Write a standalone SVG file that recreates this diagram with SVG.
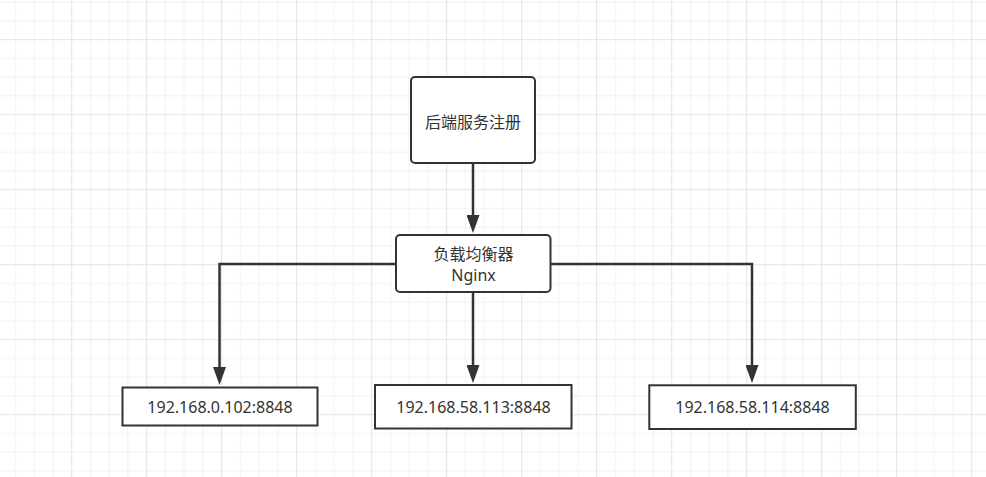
<svg xmlns="http://www.w3.org/2000/svg" width="986" height="477" viewBox="0 0 986 477">
  <defs>
    <pattern id="grid" patternUnits="userSpaceOnUse" x="71.2" y="39.2" width="75" height="75">
      <rect x="18.75" y="0" width="1" height="75" fill="#f1f1f1"/>
      <rect x="37.5" y="0" width="1" height="75" fill="#f1f1f1"/>
      <rect x="56.25" y="0" width="1" height="75" fill="#f1f1f1"/>
      <rect x="0" y="18.75" width="75" height="1" fill="#f1f1f1"/>
      <rect x="0" y="37.5" width="75" height="1" fill="#f1f1f1"/>
      <rect x="0" y="56.25" width="75" height="1" fill="#f1f1f1"/>
      <rect x="0" y="0" width="1" height="75" fill="#e4e4e4"/>
      <rect x="0" y="0" width="75" height="1" fill="#e4e4e4"/>
    </pattern>
    <marker id="arrow" markerUnits="userSpaceOnUse" viewBox="0 0 18 13" refX="0" refY="6.5" markerWidth="18" markerHeight="13" orient="auto">
      <path d="M0,0 L18,6.5 L0,13 Z" fill="#333333"/>
    </marker>
  </defs>
  <style>
    .box { fill: #ffffff; stroke: #333333; stroke-width: 2; }
    .edge { fill: none; stroke: #333333; stroke-width: 2.5; marker-end: url(#arrow); }
    .label { font-family: "Noto Sans", "Noto Sans CJK SC", sans-serif; font-size: 16px; fill: #333333; text-anchor: middle; }
  </style>
  <rect x="0" y="0" width="986" height="477" fill="#ffffff"/>
  <rect x="0" y="0" width="986" height="477" fill="url(#grid)"/>

  <g id="connectors">
    <path class="edge" d="M473,164 V215"/>
    <path class="edge" d="M396,264 H219.5 V367"/>
    <path class="edge" d="M473,292 V365"/>
    <path class="edge" d="M550.5,264 H752 V365"/>
  </g>

  <g id="node-register">
    <rect class="box" x="411" y="77" width="124" height="86" rx="4"/>
    <text class="label" x="473" y="128">后端服务注册</text>
  </g>

  <g id="node-nginx">
    <rect class="box" x="396" y="235" width="154.5" height="57" rx="4"/>
    <text class="label" x="473.5" y="260">负载均衡器</text>
    <text class="label" x="473.5" y="280.5">Nginx</text>
  </g>

  <g id="node-ip1">
    <rect class="box" x="122.5" y="387.5" width="195" height="38"/>
    <text class="label" x="220" y="413.3">192.168.0.102:8848</text>
  </g>

  <g id="node-ip2">
    <rect class="box" x="375" y="385" width="196.5" height="43.5"/>
    <text class="label" x="473.5" y="413.3">192.168.58.113:8848</text>
  </g>

  <g id="node-ip3">
    <rect class="box" x="649.3" y="385.3" width="206.5" height="43.7"/>
    <text class="label" x="752.5" y="413.3">192.168.58.114:8848</text>
  </g>
</svg>
